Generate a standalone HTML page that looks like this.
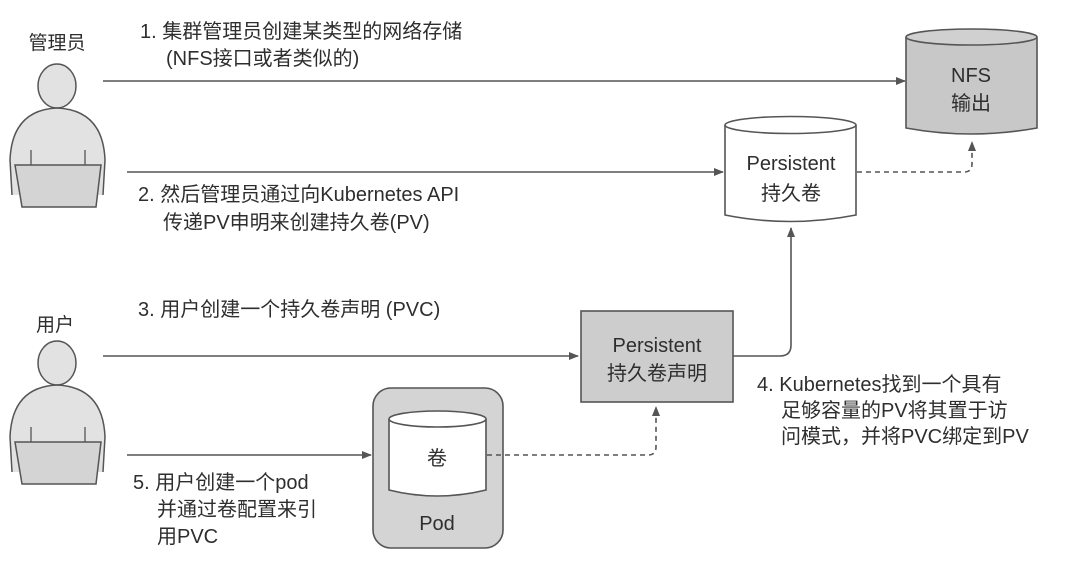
<!DOCTYPE html>
<html><head><meta charset="utf-8"><style>
body{margin:0;background:#fff;}
svg text{font-family:"Liberation Sans","Noto Sans CJK SC",sans-serif;fill:#2e2e2e;}
</style></head><body>
<svg width="1080" height="570" viewBox="0 0 1080 570" xmlns="http://www.w3.org/2000/svg">
<defs>
<marker id="a" markerWidth="10" markerHeight="8" refX="9" refY="4" orient="auto" markerUnits="userSpaceOnUse"><path d="M0,0 L10,4 L0,8 Z" fill="#555"/></marker>
<g id="person">
<ellipse cx="57" cy="86" rx="19" ry="22" fill="#e2e2e2" stroke="#555" stroke-width="1.5"/>
<path d="M12,195 L10,160 Q12,110 57,108 Q103,110 105,160 L103,195" fill="#e2e2e2" stroke="#555" stroke-width="1.5"/>
<path d="M31,150 L31,165 M85,150 L85,165" stroke="#555" stroke-width="1.3"/>
<path d="M15,165 L101,165 L96,207 L22,207 Z" fill="#d4d4d4" stroke="#555" stroke-width="1.5"/>
</g>
</defs>
<rect width="1080" height="570" fill="#fff"/>
<text x="57" y="49" font-size="19" text-anchor="middle">管理员</text>
<use href="#person"/>
<text x="55" y="331" font-size="19" text-anchor="middle">用户</text>
<use href="#person" transform="translate(0,277)"/>

<line x1="103" y1="81" x2="905" y2="81" stroke="#555" stroke-width="1.6" marker-end="url(#a)"/>
<text x="140" y="38" font-size="20">1. 集群管理员创建某类型的网络存储</text>
<text x="166" y="65" font-size="20">(NFS接口或者类似的)</text>
<path d="M906,37 L906,128 Q971,140 1037,128 L1037,37" fill="#c8c8c8" stroke="#555" stroke-width="1.6"/>
<ellipse cx="971.5" cy="37" rx="65.5" ry="8" fill="#d0d0d0" stroke="#555" stroke-width="1.6"/>
<text x="971" y="82" font-size="20" text-anchor="middle">NFS</text>
<text x="971" y="110" font-size="20" text-anchor="middle">输出</text>

<line x1="127" y1="172" x2="723" y2="172" stroke="#555" stroke-width="1.6" marker-end="url(#a)"/>
<text x="138" y="201" font-size="20">2. 然后管理员通过向Kubernetes API</text>
<text x="163" y="229" font-size="20">传递PV申明来创建持久卷(PV)</text>
<path d="M725,125 L725,215 Q790,228 856,215 L856,125" fill="#fff" stroke="#555" stroke-width="1.6"/>
<ellipse cx="790.5" cy="125" rx="65.5" ry="8.5" fill="#fff" stroke="#555" stroke-width="1.6"/>
<text x="791" y="170" font-size="20" text-anchor="middle">Persistent</text>
<text x="791" y="200" font-size="20" text-anchor="middle">持久卷</text>
<path d="M857,172 L964,172 Q972,172 972,164 L972,142" fill="none" stroke="#555" stroke-width="1.6" stroke-dasharray="5,4" marker-end="url(#a)"/>

<line x1="103" y1="356" x2="578" y2="356" stroke="#555" stroke-width="1.6" marker-end="url(#a)"/>
<text x="138" y="316" font-size="20">3. 用户创建一个持久卷声明 (PVC)</text>
<rect x="581" y="311" width="152" height="91" fill="#cdcdcd" stroke="#555" stroke-width="1.6"/>
<text x="657" y="352" font-size="20" text-anchor="middle">Persistent</text>
<text x="657" y="380" font-size="20" text-anchor="middle">持久卷声明</text>
<path d="M733,356 L780,356 Q791,356 791,345 L791,228" fill="none" stroke="#555" stroke-width="1.6" marker-end="url(#a)"/>
<text x="757" y="391" font-size="20">4. Kubernetes找到一个具有</text>
<text x="781" y="417" font-size="20">足够容量的PV将其置于访</text>
<text x="781" y="443" font-size="20">问模式，并将PVC绑定到PV</text>

<line x1="127" y1="455" x2="371" y2="455" stroke="#555" stroke-width="1.6" marker-end="url(#a)"/>
<text x="133" y="489" font-size="20">5. 用户创建一个pod</text>
<text x="157" y="516" font-size="20">并通过卷配置来引</text>
<text x="157" y="543" font-size="20">用PVC</text>
<rect x="373" y="388" width="130" height="160" rx="18" fill="#d4d4d4" stroke="#555" stroke-width="1.6"/>
<path d="M389,419 L389,490 Q437,502 486,490 L486,419" fill="#fff" stroke="#555" stroke-width="1.6"/>
<ellipse cx="437.5" cy="419" rx="48.5" ry="8" fill="#fff" stroke="#555" stroke-width="1.6"/>
<text x="437" y="465" font-size="20" text-anchor="middle">卷</text>
<text x="437" y="530" font-size="20" text-anchor="middle">Pod</text>
<path d="M487,455 L648,455 Q656,455 656,447 L656,407" fill="none" stroke="#555" stroke-width="1.6" stroke-dasharray="5,4" marker-end="url(#a)"/>
</svg>
</body></html>
